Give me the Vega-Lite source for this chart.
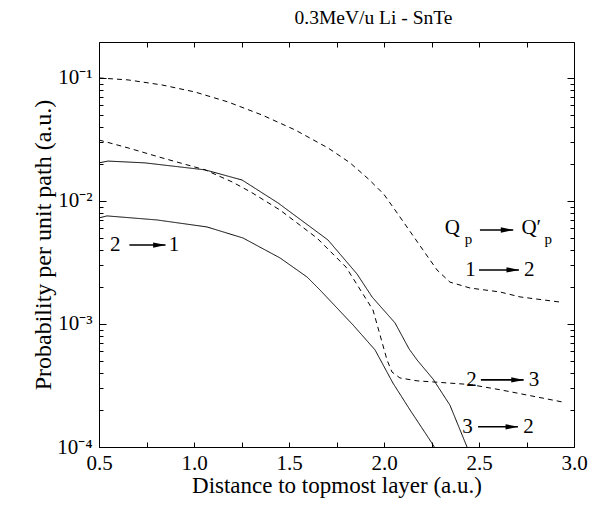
{
  "$schema": "https://vega.github.io/schema/vega-lite/v6.json",
  "width": 475,
  "height": 405,
  "autosize": {"type": "none"},
  "padding": {"left": 99, "top": 42, "right": 26, "bottom": 67},
  "background": "white",
  "title": {"text": "0.3MeV/u Li - SnTe", "font": "Liberation Serif", "fontSize": 19.5, "fontWeight": "normal", "anchor": "middle", "dx": 37, "offset": 13, "color": "black"},
  "config": {
    "view": {"stroke": null},
    "axis": {"domainColor": "black", "domainWidth": 1, "tickColor": "black", "tickWidth": 1, "labelColor": "black", "titleColor": "black", "labelFont": "Liberation Serif", "titleFont": "Liberation Serif", "titleFontWeight": "normal", "labelFontSize": 21, "titleFontSize": 23, "grid": false}
  },
  "datasets": {
    "curves": [
      {"series": "1→2", "x": 0.5, "y": 0.100},
      {"series": "1→2", "x": 0.653, "y": 0.0964},
      {"series": "1→2", "x": 0.832, "y": 0.0877},
      {"series": "1→2", "x": 1.005, "y": 0.0769},
      {"series": "1→2", "x": 1.179, "y": 0.0638},
      {"series": "1→2", "x": 1.358, "y": 0.0500},
      {"series": "1→2", "x": 1.532, "y": 0.0378},
      {"series": "1→2", "x": 1.705, "y": 0.0270},
      {"series": "1→2", "x": 1.82, "y": 0.0205},
      {"series": "1→2", "x": 1.92, "y": 0.0150},
      {"series": "1→2", "x": 2.0, "y": 0.0113},
      {"series": "1→2", "x": 2.084, "y": 0.00741},
      {"series": "1→2", "x": 2.205, "y": 0.00400},
      {"series": "1→2", "x": 2.279, "y": 0.00275},
      {"series": "1→2", "x": 2.347, "y": 0.00219},
      {"series": "1→2", "x": 2.453, "y": 0.00196},
      {"series": "1→2", "x": 2.611, "y": 0.00182},
      {"series": "1→2", "x": 2.716, "y": 0.00166},
      {"series": "1→2", "x": 2.937, "y": 0.00150},
      {"series": "2→3", "x": 0.5, "y": 0.0313},
      {"series": "2→3", "x": 0.653, "y": 0.0270},
      {"series": "2→3", "x": 0.832, "y": 0.0224},
      {"series": "2→3", "x": 1.058, "y": 0.0179},
      {"series": "2→3", "x": 1.2, "y": 0.0143},
      {"series": "2→3", "x": 1.3, "y": 0.0118},
      {"series": "2→3", "x": 1.453, "y": 0.00843},
      {"series": "2→3", "x": 1.647, "y": 0.00500},
      {"series": "2→3", "x": 1.8, "y": 0.00290},
      {"series": "2→3", "x": 1.942, "y": 0.00130},
      {"series": "2→3", "x": 1.979, "y": 0.000815},
      {"series": "2→3", "x": 2.016, "y": 0.000510},
      {"series": "2→3", "x": 2.042, "y": 0.000407},
      {"series": "2→3", "x": 2.084, "y": 0.000364},
      {"series": "2→3", "x": 2.174, "y": 0.000345},
      {"series": "2→3", "x": 2.258, "y": 0.000338},
      {"series": "2→3", "x": 2.453, "y": 0.000322},
      {"series": "2→3", "x": 2.611, "y": 0.000292},
      {"series": "2→3", "x": 2.953, "y": 0.000230},
      {"series": "3→2", "x": 0.5, "y": 0.0204},
      {"series": "3→2", "x": 0.547, "y": 0.0211},
      {"series": "3→2", "x": 0.742, "y": 0.0204},
      {"series": "3→2", "x": 1.058, "y": 0.0179},
      {"series": "3→2", "x": 1.253, "y": 0.0148},
      {"series": "3→2", "x": 1.442, "y": 0.00964},
      {"series": "3→2", "x": 1.584, "y": 0.00663},
      {"series": "3→2", "x": 1.705, "y": 0.00482},
      {"series": "3→2", "x": 1.858, "y": 0.00255},
      {"series": "3→2", "x": 1.937, "y": 0.00166},
      {"series": "3→2", "x": 2.058, "y": 0.00102},
      {"series": "3→2", "x": 2.132, "y": 0.000627},
      {"series": "3→2", "x": 2.174, "y": 0.000510},
      {"series": "3→2", "x": 2.258, "y": 0.000357},
      {"series": "3→2", "x": 2.347, "y": 0.000219},
      {"series": "3→2", "x": 2.437, "y": 0.0001},
      {"series": "2→1", "x": 0.5, "y": 0.00728},
      {"series": "2→1", "x": 0.542, "y": 0.00756},
      {"series": "2→1", "x": 0.805, "y": 0.00701},
      {"series": "2→1", "x": 1.068, "y": 0.00615},
      {"series": "2→1", "x": 1.258, "y": 0.00500},
      {"series": "2→1", "x": 1.453, "y": 0.00344},
      {"series": "2→1", "x": 1.595, "y": 0.00241},
      {"series": "2→1", "x": 1.663, "y": 0.00189},
      {"series": "2→1", "x": 1.837, "y": 0.000982},
      {"series": "2→1", "x": 1.953, "y": 0.000615},
      {"series": "2→1", "x": 2.047, "y": 0.000331},
      {"series": "2→1", "x": 2.137, "y": 0.000200},
      {"series": "2→1", "x": 2.232, "y": 0.000120},
      {"series": "2→1", "x": 2.258, "y": 0.000104},
      {"series": "2→1", "x": 2.265, "y": 0.0001}
    ],
    "arrows": [
      {"x1": 0.66, "x2": 0.85, "hx": 0.818, "y": 0.00438},
      {"x1": 2.505, "x2": 2.68, "hx": 2.648, "y": 0.00581},
      {"x1": 2.50, "x2": 2.71, "hx": 2.678, "y": 0.00275},
      {"x1": 2.51, "x2": 2.735, "hx": 2.703, "y": 0.000351},
      {"x1": 2.495, "x2": 2.705, "hx": 2.673, "y": 0.000146}
    ],
    "labels": [
      {"text": "2", "x": 0.585, "y": 0.00438},
      {"text": "1", "x": 0.895, "y": 0.00438},
      {"text": "Q", "x": 2.36, "y": 0.00603},
      {"text": "Q′", "x": 2.775, "y": 0.00603},
      {"text": "1", "x": 2.455, "y": 0.00275},
      {"text": "2", "x": 2.765, "y": 0.00275},
      {"text": "2", "x": 2.46, "y": 0.000351},
      {"text": "3", "x": 2.79, "y": 0.000351},
      {"text": "3", "x": 2.44, "y": 0.000146},
      {"text": "2", "x": 2.76, "y": 0.000146}
    ],
    "subs": [
      {"text": "p", "x": 2.445, "y": 0.00495},
      {"text": "p", "x": 2.865, "y": 0.00495}
    ]
  },
  "resolve": {"axis": {"x": "independent", "y": "independent"}},
  "layer": [
    {
      "data": {"name": "curves"},
      "mark": {"type": "line", "color": "black", "strokeWidth": 1, "clip": true},
      "encoding": {
        "x": {"field": "x", "type": "quantitative",
          "scale": {"domain": [0.5, 3.0], "nice": false, "zero": false},
          "axis": {"orient": "bottom", "title": "Distance to topmost layer (a.u.)",
            "values": [0.5, 0.75, 1.0, 1.25, 1.5, 1.75, 2.0, 2.25, 2.5, 2.75, 3.0],
            "labelExpr": "(datum.value * 2) % 1 == 0 ? format(datum.value, '.1f') : ''",
            "tickSize": -5, "labelPadding": 10, "titlePadding": 1, "labelFlush": false}},
        "y": {"field": "y", "type": "quantitative",
          "scale": {"type": "log", "domain": [0.0001, 0.196], "nice": false},
          "axis": {"orient": "left", "title": "Probability per unit path  (a.u.)", "titleFontSize": 24,
            "values": [0.0001, 0.0002, 0.0003, 0.0004, 0.0005, 0.0006, 0.0007, 0.0008, 0.0009, 0.001, 0.002, 0.003, 0.004, 0.005, 0.006, 0.007, 0.008, 0.009, 0.01, 0.02, 0.03, 0.04, 0.05, 0.06, 0.07, 0.08, 0.09, 0.1],
            "labelExpr": "datum.value === 0.1 ? '10⁻¹' : datum.value === 0.01 ? '10⁻²' : datum.value === 0.001 ? '10⁻³' : datum.value === 0.0001 ? '10⁻⁴' : ''",
            "tickSize": {"condition": {"test": "datum.value === 0.1 || datum.value === 0.01 || datum.value === 0.001 || datum.value === 0.0001", "value": -7}, "value": -4},
            "labelPadding": 14, "titlePadding": 1, "labelFlush": false}},
        "strokeDash": {"field": "series", "type": "nominal",
          "scale": {"domain": ["1→2", "2→3", "3→2", "2→1"], "range": [[5, 4], [5, 4], [1, 0], [1, 0]]},
          "legend": null}
      }
    },
    {
      "data": {"name": "arrows"},
      "mark": {"type": "rule", "color": "black", "strokeWidth": 1.6},
      "encoding": {
        "x": {"field": "x1", "type": "quantitative",
          "scale": {"domain": [0.5, 3.0], "nice": false, "zero": false},
          "axis": {"orient": "top", "title": null, "labels": false,
            "values": [0.5, 0.75, 1.0, 1.25, 1.5, 1.75, 2.0, 2.25, 2.5, 2.75, 3.0], "tickSize": -5}},
        "x2": {"field": "x2"},
        "y": {"field": "y", "type": "quantitative",
          "scale": {"type": "log", "domain": [0.0001, 0.196], "nice": false},
          "axis": {"orient": "right", "title": null, "labels": false,
            "values": [0.0001, 0.0002, 0.0003, 0.0004, 0.0005, 0.0006, 0.0007, 0.0008, 0.0009, 0.001, 0.002, 0.003, 0.004, 0.005, 0.006, 0.007, 0.008, 0.009, 0.01, 0.02, 0.03, 0.04, 0.05, 0.06, 0.07, 0.08, 0.09, 0.1],
            "tickSize": {"condition": {"test": "datum.value === 0.1 || datum.value === 0.01 || datum.value === 0.001 || datum.value === 0.0001", "value": -7}, "value": -4}}}
      }
    },
    {
      "data": {"name": "arrows"},
      "mark": {"type": "point", "shape": "M -1 -0.42 L 1 0 L -1 0.42 Z", "filled": true, "color": "black", "size": 160, "opacity": 1},
      "encoding": {
        "x": {"field": "hx", "type": "quantitative", "scale": {"domain": [0.5, 3.0], "nice": false, "zero": false}, "axis": null},
        "y": {"field": "y", "type": "quantitative", "scale": {"type": "log", "domain": [0.0001, 0.196], "nice": false}, "axis": null}
      }
    },
    {
      "data": {"name": "labels"},
      "mark": {"type": "text", "font": "Liberation Serif", "fontSize": 21, "color": "black", "align": "center", "baseline": "middle"},
      "encoding": {
        "x": {"field": "x", "type": "quantitative", "scale": {"domain": [0.5, 3.0], "nice": false, "zero": false}, "axis": null},
        "y": {"field": "y", "type": "quantitative", "scale": {"type": "log", "domain": [0.0001, 0.196], "nice": false}, "axis": null},
        "text": {"field": "text"}
      }
    },
    {
      "data": {"name": "subs"},
      "mark": {"type": "text", "font": "Liberation Serif", "fontSize": 15, "color": "black", "align": "center", "baseline": "middle"},
      "encoding": {
        "x": {"field": "x", "type": "quantitative", "scale": {"domain": [0.5, 3.0], "nice": false, "zero": false}, "axis": null},
        "y": {"field": "y", "type": "quantitative", "scale": {"type": "log", "domain": [0.0001, 0.196], "nice": false}, "axis": null},
        "text": {"field": "text"}
      }
    }
  ]
}
